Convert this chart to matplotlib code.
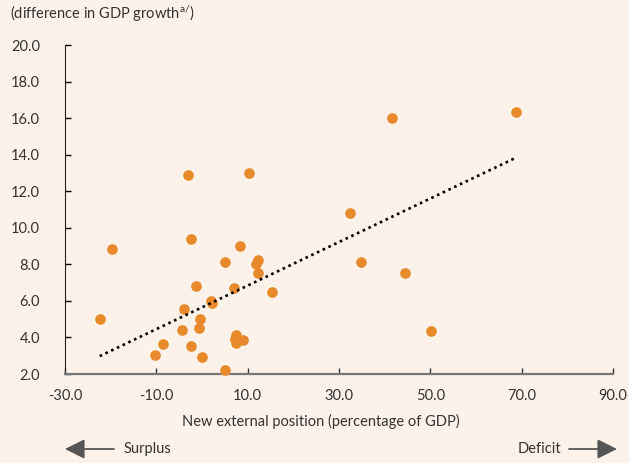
import matplotlib
matplotlib.use('Agg')
import matplotlib.pyplot as plt
from matplotlib.patches import FancyArrowPatch
import numpy as np

# New external position (% of GDP) vs. difference in GDP growth
ext_position = [-3.1, 10.3, 32.5, -19.7, -2.5, 8.3, 5.0, 12.3, 11.8, 12.2,
                15.3, -1.3, 7.1, 2.0, 2.2, -3.9, -0.5, -22.4, -4.4, -0.65,
                7.4, 7.2, 8.9, 7.5, -8.5, -2.5, -10.4, -0.1, 5.0, 41.5,
                68.8, 34.8, 44.5, 50.2]
gdp_diff = [12.9, 13.0, 10.83, 8.82, 9.37, 9.02, 8.13, 8.24, 8.02, 7.51,
            6.5, 6.82, 6.72, 6.01, 5.87, 5.54, 5.03, 5.01, 4.43, 4.54,
            4.13, 3.92, 3.85, 3.71, 3.64, 3.53, 3.04, 2.93, 2.24, 16.0,
            16.32, 8.13, 7.53, 4.34]
# trend line as published
trend_slope = 0.1191
trend_intercept = 5.646
x_ticks = [-30, -10, 10, 30, 50, 70, 90]
y_ticks = [2, 4, 6, 8, 10, 12, 14, 16, 18, 20]

BG = '#fdf2e9'
ORANGE = '#e8892b'
TEXT = '#333333'

plt.rcParams['font.family'] = ['Lato', 'DejaVu Sans']

fig = plt.figure(figsize=(6.29, 4.63), dpi=100, facecolor=BG)
ax = fig.add_axes([65 / 629, 1 - 374 / 463, 548 / 629, 329 / 463])
ax.set_facecolor(BG)

ax.scatter(ext_position, gdp_diff, s=44, color=ORANGE, zorder=3, clip_on=False)

line_x = np.array([min(ext_position), max(ext_position)])
ax.plot(line_x, trend_slope * line_x + trend_intercept, color='black', lw=1.9,
        linestyle=(0, (1, 1.4)), zorder=4)

ax.set_xlim(-30, 90)
ax.set_ylim(2, 20)
ax.set_xticks(x_ticks)
ax.set_yticks(y_ticks)
ax.set_xticklabels([f'{v:.1f}' for v in x_ticks])
ax.set_yticklabels([f'{v:.1f}' for v in y_ticks])
ax.tick_params(axis='both', direction='in', length=4, width=1,
               labelsize=10.5, colors=TEXT)
ax.tick_params(axis='y', pad=18, color='black')
ax.tick_params(axis='x', pad=11)

ax.spines['top'].set_visible(False)
ax.spines['right'].set_visible(False)
ax.spines['left'].set_color('#222222')
ax.spines['bottom'].set_color('#777777')
ax.spines['bottom'].set_linewidth(1.6)

fig.text(10 / 629, 1 - 14 / 463, r'(difference in GDP growth$\mathregular{^{a/}}$)',
         fontsize=10.5, color=TEXT, va='center', ha='left')
fig.text(321 / 629, 1 - 421 / 463, 'New external position (percentage of GDP)',
         fontsize=10.5, color=TEXT, va='center', ha='center')

# surplus / deficit arrows
arrow = dict(arrowstyle='-|>,head_length=0.6,head_width=0.3', color='#555555',
             lw=1.3, mutation_scale=20, shrinkA=0, shrinkB=0)
y_arr = 1 - 449 / 463
fig.patches.append(FancyArrowPatch(
    (114 / 629, y_arr), (65 / 629, y_arr), transform=fig.transFigure, **arrow))
fig.patches.append(FancyArrowPatch(
    (569 / 629, y_arr), (617 / 629, y_arr), transform=fig.transFigure, **arrow))
fig.text(124 / 629, y_arr, 'Surplus', fontsize=10.5, color=TEXT,
         va='center', ha='left')
fig.text(561 / 629, y_arr, 'Deficit', fontsize=10.5, color=TEXT,
         va='center', ha='right')

fig.savefig('out.png', dpi=100, facecolor=BG)
